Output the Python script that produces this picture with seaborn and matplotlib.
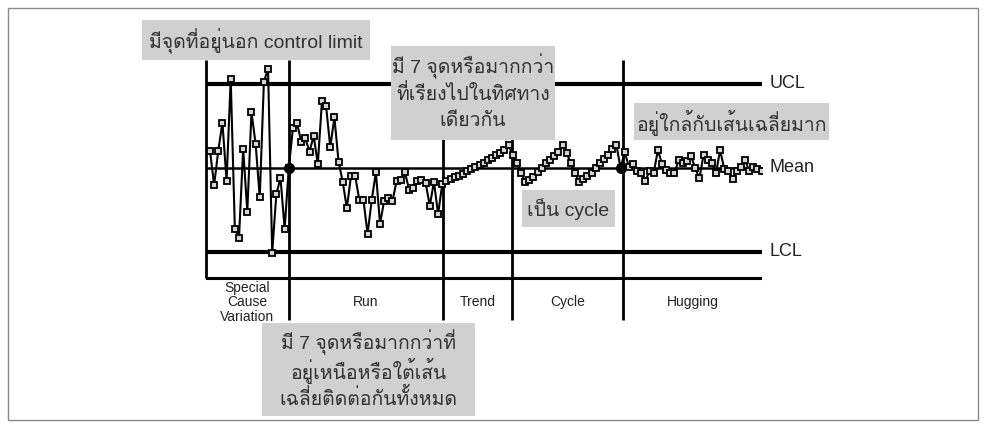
import numpy as np
import pandas as pd
import matplotlib
matplotlib.use('Agg')
import matplotlib.pyplot as plt
import seaborn as sns
from matplotlib import font_manager
from matplotlib.ft2font import FT2Font
from matplotlib.patches import Rectangle


# values in sigma units (mean = 0, UCL = +3, LCL = -3)
special = [0.62, -0.61, 0.62, 1.62, -0.46, 3.18, -2.19, -2.49, 0.68, -1.56,
           1.99, 0.87, -1.05, 3.08, 3.54, -3.03, -0.94, -0.35, -2.17, 0.0]
run = [1.42, 1.60, 0.94, 1.06, 0.58, 1.15, 0.14, 2.39, 2.20, 0.74,
       1.81, 0.23, -0.49, -1.44, -0.28, -0.27, -1.14, -1.14, -2.36, -1.14,
       -0.16, -1.99, -1.17, -1.06, -1.18, -0.46, -0.44, -0.15, -0.77, -0.73,
       -0.45, -0.44, -0.54, -1.35, -0.49, -1.65]
trend = [-0.58, -0.48, -0.41, -0.34, -0.29, -0.20, -0.12, -0.05, 0.04, 0.11,
         0.18, 0.27, 0.36, 0.45, 0.54, 0.64, 0.82]
cycle = [0.46, 0.17, -0.17, -0.49, -0.43, -0.31, -0.15, -0.01, 0.17, 0.29,
         0.43, 0.58, 0.82, 0.53, 0.17, -0.17, -0.49, -0.40, -0.28, -0.17,
         0.01, 0.17, 0.31, 0.46, 0.67, 0.82, 0.0]
hugging = [0.56, 0.05, 0.14, -0.10, -0.19, -0.45, -0.10, -0.17, 0.64, 0.14,
           -0.07, -0.17, -0.19, 0.29, 0.19, 0.26, 0.43, -0.01, -0.37, 0.46,
           0.29, 0.19, -0.19, 0.64, -0.04, -0.10, -0.40, -0.10, 0.03, 0.29,
           -0.10, 0.05, -0.05, -0.10]

limits = {'UCL': 3.0, 'Mean': 0.0, 'LCL': -3.0}
section_names = ['Special\nCause\nVariation', 'Run', 'Trend', 'Cycle', 'Hugging']
highlight_idx = [19, 99]  # points sitting on the mean at section borders

notes = [
    (['มีจุดที่อยู่นอก control limit'], (142, 20, 370, 60)),
    (['มี 7 จุดหรือมากกว่า', 'ที่เรียงไปในทิศทาง', 'เดียวกัน'], (391, 46, 555, 140)),
    (['อยู่ใกล้กับเส้นเฉลี่ยมาก'], (634, 103, 829, 140)),
    (['เป็น cycle'], (522, 190, 615, 227)),
    (['มี 7 จุดหรือมากกว่าที่', 'อยู่เหนือหรือใต้เส้น', 'เฉลี่ยติดต่อกันทั้งหมด'], (262, 323, 475, 416)),
]


def find_thai_font():
    for f in font_manager.fontManager.ttflist:
        try:
            cmap = FT2Font(f.fname).get_charmap()
        except Exception:
            continue
        if 0x0E21 in cmap and 0x0E35 in cmap:
            return f.name
    return None


sns.set_theme(style='white')
thai_font = find_thai_font()
families = ['Liberation Sans']
if thai_font:
    families.append(thai_font)
families.append('DejaVu Sans')
plt.rcParams['font.family'] = families

values = special + run + trend + cycle + hugging
df = pd.DataFrame({'sample': np.arange(len(values)), 'value': values})

W, H = 986, 428
fig = plt.figure(figsize=(W / 100, H / 100), dpi=100)


def fx(x):
    return x / W


def fy(y):
    return 1 - y / H


ax = fig.add_axes([fx(206), fy(320), fx(762) - fx(206), (320 - 60) / H])
ax.set_xlim(-0.96, 133.1)
ax.set_ylim(-5.43, 3.857)
ax.axis('off')

bottom_line = -3.93
ax.axhline(limits['UCL'], color='black', lw=3)
ax.axhline(limits['Mean'], color='black', lw=1.8)
ax.axhline(limits['LCL'], color='black', lw=3)
ax.axhline(bottom_line, color='black', lw=2.2)

seps = [19, 56.2, 72.8, 99.6]
ax.vlines(-0.96, bottom_line, 3.857, color='black', lw=2, clip_on=False)
ax.vlines(seps, -5.43, 3.857, color='black', lw=2, clip_on=False)

sns.lineplot(data=df, x='sample', y='value', ax=ax, color='black', lw=1.5,
             marker='s', markersize=5, markerfacecolor='#d5d5d5',
             markeredgecolor='black', markeredgewidth=1.3, zorder=3)
sns.scatterplot(data=df.iloc[highlight_idx], x='sample', y='value', ax=ax,
                color='black', s=55, zorder=4, edgecolor='black')
ax.set_xlabel('')
ax.set_ylabel('')

for name, val in limits.items():
    ax.text(135.0, val, name, va='center', ha='left', fontsize=13,
            color='#222222', clip_on=False)

edges = [-0.96] + seps + [133.1]
for i, name in enumerate(section_names):
    mid = (edges[i] + edges[i + 1]) / 2
    ax.text(mid, -4.8, name, ha='center', va='center', fontsize=10,
            color='#222222', linespacing=1.05)

# outer frame
fig.add_artist(Rectangle((fx(8), fy(420)), fx(978) - fx(8), (420 - 8) / H,
                         transform=fig.transFigure, fill=False,
                         edgecolor='#8a8a8a', lw=1, zorder=1))

line_step = 28
for lines, (x0, y0, x1, y1) in notes:
    fig.add_artist(Rectangle((fx(x0), fy(y1)), fx(x1) - fx(x0), (y1 - y0) / H,
                             transform=fig.transFigure, facecolor='#d0d0d0',
                             edgecolor='none', zorder=5))
    yc = (y0 + y1) / 2 - (len(lines) - 1) * line_step / 2 + 1
    for k, line in enumerate(lines):
        fig.text(fx((x0 + x1) / 2), fy(yc + k * line_step), line,
                 ha='center', va='center', fontsize=14, color='#333333',
                 zorder=6)

fig.savefig('out.png', dpi=100)
